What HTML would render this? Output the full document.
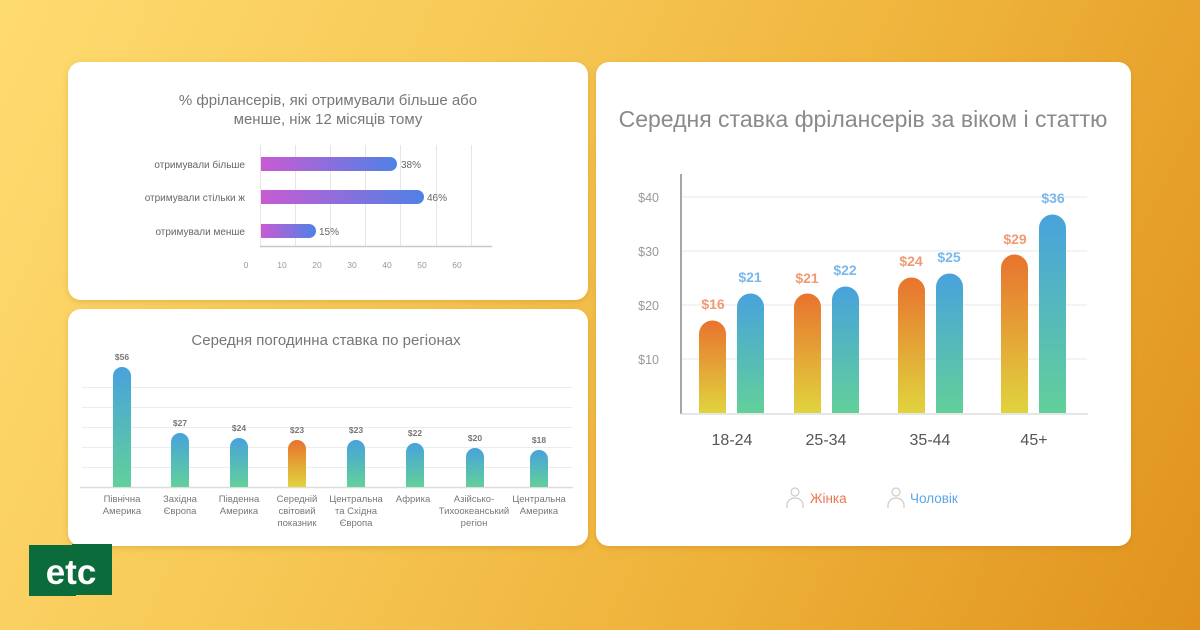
<!DOCTYPE html>
<html><head><meta charset="utf-8"><style>
html,body{margin:0;padding:0;width:1200px;height:630px;overflow:hidden}
body{background:linear-gradient(115deg,#fedb70 0%,#f7c855 35%,#eeb23a 65%,#e0921d 100%)}
svg{position:absolute;left:0;top:0}
text{font-family:"Liberation Sans","DejaVu Sans",sans-serif}
</style></head><body>
<svg width="1200" height="630" viewBox="0 0 1200 630">
<defs>
<linearGradient id="pb" x1="0" y1="0" x2="1" y2="0"><stop offset="0" stop-color="#c85bd3"/><stop offset="1" stop-color="#4f82e6"/></linearGradient>
<linearGradient id="bg" x1="0" y1="0" x2="0" y2="1"><stop offset="0" stop-color="#48a2dc"/><stop offset="1" stop-color="#62d09a"/></linearGradient>
<linearGradient id="og" x1="0" y1="0" x2="0" y2="1"><stop offset="0" stop-color="#e8732e"/><stop offset="1" stop-color="#e0d43e"/></linearGradient>
<filter id="sh" x="-5%" y="-5%" width="110%" height="115%"><feDropShadow dx="0" dy="2" stdDeviation="3" flood-color="#a06a00" flood-opacity="0.25"/></filter>
</defs>
<!-- cards -->
<rect x="68" y="62" width="520" height="238" rx="13" fill="#fff" filter="url(#sh)"/>
<rect x="68" y="309" width="520" height="237" rx="13" fill="#fff" filter="url(#sh)"/>
<rect x="596" y="62" width="535" height="484" rx="13" fill="#fff" filter="url(#sh)"/>

<!-- chart 1 -->
<text x="328" y="105" font-size="15" fill="#777" text-anchor="middle">% фрілансерів, які отримували більше або</text>
<text x="328" y="124" font-size="15" fill="#777" text-anchor="middle">менше, ніж 12 місяців тому</text>
<g stroke="#e6e6e6" stroke-width="1">
<line x1="295.5" y1="145" x2="295.5" y2="246"/><line x1="330.5" y1="145" x2="330.5" y2="246"/><line x1="365.5" y1="145" x2="365.5" y2="246"/><line x1="400.5" y1="145" x2="400.5" y2="246"/><line x1="436.5" y1="145" x2="436.5" y2="246"/><line x1="471.5" y1="145" x2="471.5" y2="246"/><line x1="260.5" y1="145" x2="260.5" y2="246"/>
</g>
<line x1="260" y1="246.5" x2="492" y2="246.5" stroke="#c8c8c8" stroke-width="1.5"/>
<path d="M261 157h129a7 7 0 0 1 0 14h-129z" fill="url(#pb)"/>
<path d="M261 190h156a7 7 0 0 1 0 14h-156z" fill="url(#pb)"/>
<path d="M261 224h48a7 7 0 0 1 0 14h-48z" fill="url(#pb)"/>
<g font-size="10" fill="#666" text-anchor="end">
<text x="245" y="168">отримували більше</text><text x="245" y="201">отримували стільки ж</text><text x="245" y="235">отримували менше</text></g>
<g font-size="10" fill="#666"><text x="401" y="168">38%</text><text x="427" y="201">46%</text><text x="319" y="235">15%</text></g>
<g font-size="8.5" fill="#999" text-anchor="middle"><text x="246" y="268">0</text><text x="282" y="268">10</text><text x="317" y="268">20</text><text x="352" y="268">30</text><text x="387" y="268">40</text><text x="422" y="268">50</text><text x="457" y="268">60</text></g>

<!-- chart 2 -->
<text x="326" y="345" font-size="15" fill="#777" text-anchor="middle">Середня погодинна ставка по регіонах</text>
<g stroke="#ececec" stroke-width="1"><line x1="82" y1="387.5" x2="572" y2="387.5"/><line x1="82" y1="407.5" x2="572" y2="407.5"/><line x1="82" y1="427.5" x2="572" y2="427.5"/><line x1="82" y1="447.5" x2="572" y2="447.5"/><line x1="82" y1="467.5" x2="572" y2="467.5"/></g>
<line x1="80" y1="487.5" x2="573" y2="487.5" stroke="#ddd" stroke-width="1.5"/>
<g>
<path d="M113 487V376a9 9 0 0 1 18 0V487z" fill="url(#bg)"/>
<path d="M171 487V442a9 9 0 0 1 18 0V487z" fill="url(#bg)"/>
<path d="M230 487V447a9 9 0 0 1 18 0V487z" fill="url(#bg)"/>
<path d="M288 487V449a9 9 0 0 1 18 0V487z" fill="url(#og)"/>
<path d="M347 487V449a9 9 0 0 1 18 0V487z" fill="url(#bg)"/>
<path d="M406 487V452a9 9 0 0 1 18 0V487z" fill="url(#bg)"/>
<path d="M466 487V457a9 9 0 0 1 18 0V487z" fill="url(#bg)"/>
<path d="M530 487V459a9 9 0 0 1 18 0V487z" fill="url(#bg)"/>
</g>
<g font-size="8.5" fill="#777" text-anchor="middle" font-weight="bold">
<text x="122" y="360">$56</text><text x="180" y="426">$27</text><text x="239" y="431">$24</text><text x="297" y="433">$23</text><text x="356" y="433">$23</text><text x="415" y="436">$22</text><text x="475" y="441">$20</text><text x="539" y="443">$18</text></g>
<g font-size="9.5" fill="#777" text-anchor="middle">
<text x="122" y="502">Північна</text><text x="122" y="514">Америка</text>
<text x="180" y="502">Західна</text><text x="180" y="514">Європа</text>
<text x="239" y="502">Південна</text><text x="239" y="514">Америка</text>
<text x="297" y="502">Середній</text><text x="297" y="514">світовий</text><text x="297" y="526">показник</text>
<text x="356" y="502">Центральна</text><text x="356" y="514">та Східна</text><text x="356" y="526">Європа</text>
<text x="413" y="502">Африка</text>
<text x="474" y="502">Азійсько-</text><text x="474" y="514">Тихоокеанський</text><text x="474" y="526">регіон</text>
<text x="539" y="502">Центральна</text><text x="539" y="514">Америка</text></g>

<!-- chart 3 -->
<text x="863" y="127" font-size="23" fill="#8a8a8a" text-anchor="middle">Середня ставка фрілансерів за віком і статтю</text>
<g stroke="#ececec" stroke-width="1.2"><line x1="682" y1="197" x2="1087" y2="197"/><line x1="682" y1="251" x2="1087" y2="251"/><line x1="682" y1="305" x2="1087" y2="305"/><line x1="682" y1="359" x2="1087" y2="359"/></g>
<line x1="681" y1="174" x2="681" y2="414" stroke="#777" stroke-width="1.3"/>
<line x1="681" y1="414" x2="1088" y2="414" stroke="#ddd" stroke-width="1.5"/>
<g font-size="12.5" fill="#999" text-anchor="end"><text x="659" y="202">$40</text><text x="659" y="256">$30</text><text x="659" y="310">$20</text><text x="659" y="364">$10</text></g>
<g>
<path d="M699 413V334a13.5 13.5 0 0 1 27 0V413z" fill="url(#og)"/>
<path d="M737 413V307a13.5 13.5 0 0 1 27 0V413z" fill="url(#bg)"/>
<path d="M794 413V307a13.5 13.5 0 0 1 27 0V413z" fill="url(#og)"/>
<path d="M832 413V300a13.5 13.5 0 0 1 27 0V413z" fill="url(#bg)"/>
<path d="M898 413V291a13.5 13.5 0 0 1 27 0V413z" fill="url(#og)"/>
<path d="M936 413V287a13.5 13.5 0 0 1 27 0V413z" fill="url(#bg)"/>
<path d="M1001 413V268a13.5 13.5 0 0 1 27 0V413z" fill="url(#og)"/>
<path d="M1039 413V228a13.5 13.5 0 0 1 27 0V413z" fill="url(#bg)"/>
</g>
<g font-size="14" font-weight="bold" text-anchor="middle">
<g fill="#f09a74"><text x="713" y="309">$16</text><text x="807" y="283">$21</text><text x="911" y="266">$24</text><text x="1015" y="244">$29</text></g>
<g fill="#7ab8ec"><text x="750" y="282">$21</text><text x="845" y="275">$22</text><text x="949" y="262">$25</text><text x="1053" y="203">$36</text></g>
</g>
<g font-size="16" fill="#555" text-anchor="middle"><text x="732" y="445">18-24</text><text x="826" y="445">25-34</text><text x="930" y="445">35-44</text><text x="1034" y="445">45+</text></g>
<g fill="none" stroke="#ccc" stroke-width="1.2">
<circle cx="795" cy="492" r="4"/><path d="M787 508v-3a8 7 0 0 1 16 0v3"/>
<circle cx="896" cy="492" r="4"/><path d="M888 508v-3a8 7 0 0 1 16 0v3"/>
</g>
<text x="810" y="503" font-size="13.5" fill="#ea7550">Жінка</text>
<text x="910" y="503" font-size="13.5" fill="#5aa6e6">Чоловік</text>

<!-- logo -->
<polygon points="29,545 72,545 72,544 112,544 112,595 76,595 76,596 29,596" fill="#0b6b3b"/>
<text x="71" y="584" font-size="35" font-weight="bold" fill="#fff" text-anchor="middle">etc</text>
</svg>
</body></html>
